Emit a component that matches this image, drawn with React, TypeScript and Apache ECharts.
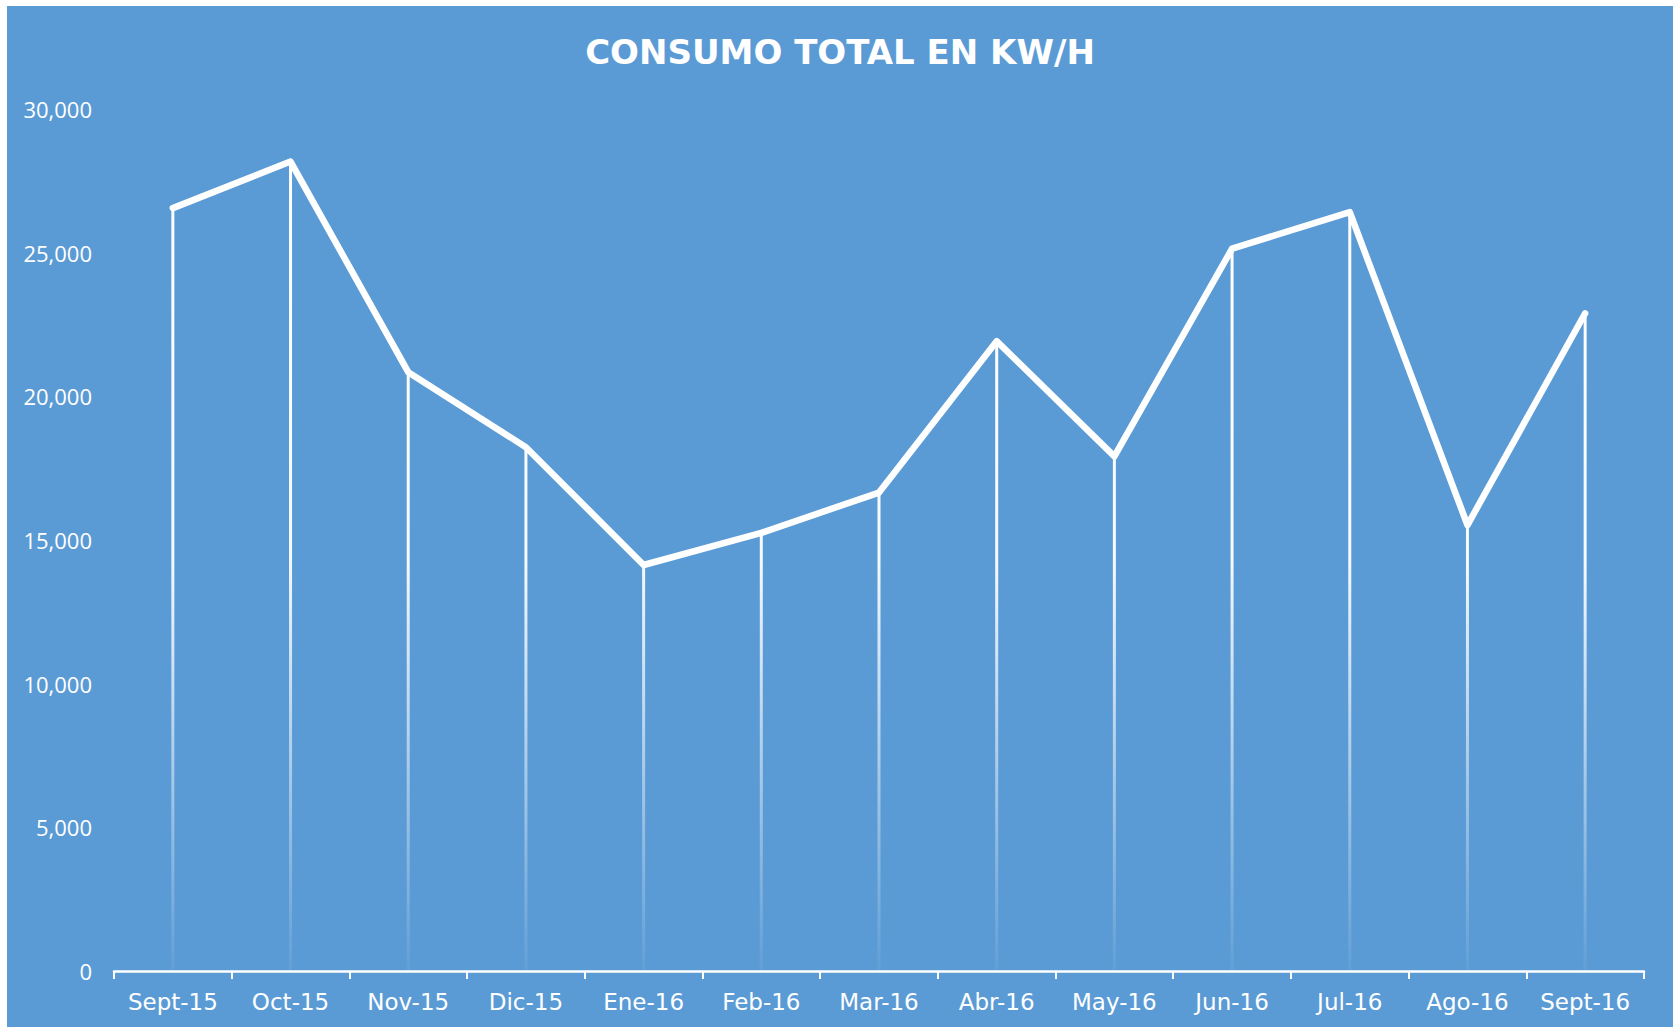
import React, { useEffect, useRef } from "react";
import * as echarts from "echarts";

const TITLE = "CONSUMO TOTAL EN KW/H";
const categories = [
  "Sept-15", "Oct-15", "Nov-15", "Dic-15", "Ene-16", "Feb-16", "Mar-16",
  "Abr-16", "May-16", "Jun-16", "Jul-16", "Ago-16", "Sept-16",
];
const consumo = [26550, 28170, 20840, 18230, 14130, 15250, 16650, 21920, 17910, 25140, 26410, 15520, 22890];
const yMin = 0;
const yMax = 30000;
const yStep = 5000;

export default function App() {
  const ref = useRef<HTMLDivElement>(null);
  useEffect(() => {
    if (!ref.current) return;
    const chart = echarts.init(ref.current, null, { renderer: "svg" });
    const gridTop = 103;
    const gridBottomY = 965;
    chart.setOption({
      animation: false,
      backgroundColor: "#5B9BD5",
      title: {
        text: TITLE,
        left: "center",
        top: 24,
        textStyle: {
          color: "#ffffff",
          fontFamily: "DejaVu Sans",
          fontWeight: "bold",
          fontSize: 34,
        },
      },
      grid: { left: 107, right: 29, top: gridTop, bottom: 56, containLabel: false },
      xAxis: {
        type: "category",
        data: categories,
        boundaryGap: true,
        axisLine: { show: true, lineStyle: { color: "#ffffff", width: 2.5 } },
        axisTick: { show: true, length: 8, lineStyle: { color: "#ffffff", width: 2 } },
        axisLabel: {
          color: "#ffffff",
          fontFamily: "DejaVu Sans",
          fontSize: 23,
          margin: 19,
          interval: 0,
        },
        splitLine: { show: false },
      },
      yAxis: {
        type: "value",
        min: yMin,
        max: yMax,
        interval: yStep,
        axisLine: { show: false },
        axisTick: { show: false },
        splitLine: { show: false },
        axisLabel: {
          color: "#ffffff",
          fontFamily: "Open Sans",
          fontSize: 22,
          margin: 22,
          formatter: (v: number) => v.toLocaleString("en-US"),
        },
      },
      series: [
        {
          type: "bar",
          data: consumo,
          barWidth: 3,
          silent: true,
          itemStyle: {
            color: new echarts.graphic.LinearGradient(
              0, gridTop, 0, gridBottomY,
              [
                { offset: 0, color: "rgba(255,255,255,1)" },
                { offset: 0.52, color: "rgba(255,255,255,0.95)" },
                { offset: 0.78, color: "rgba(255,255,255,0.45)" },
                { offset: 1, color: "rgba(255,255,255,0.04)" },
              ],
              true
            ),
          },
        },
        {
          type: "line",
          data: consumo,
          symbol: "none",
          lineStyle: { color: "#ffffff", width: 6.5, cap: "round", join: "round" },
          z: 5,
        },
      ],
    });
    return () => chart.dispose();
  }, []);
  return (
    <div
      ref={ref}
      style={{ position: "absolute", left: 7, top: 6, width: 1666, height: 1021 }}
    />
  );
}
